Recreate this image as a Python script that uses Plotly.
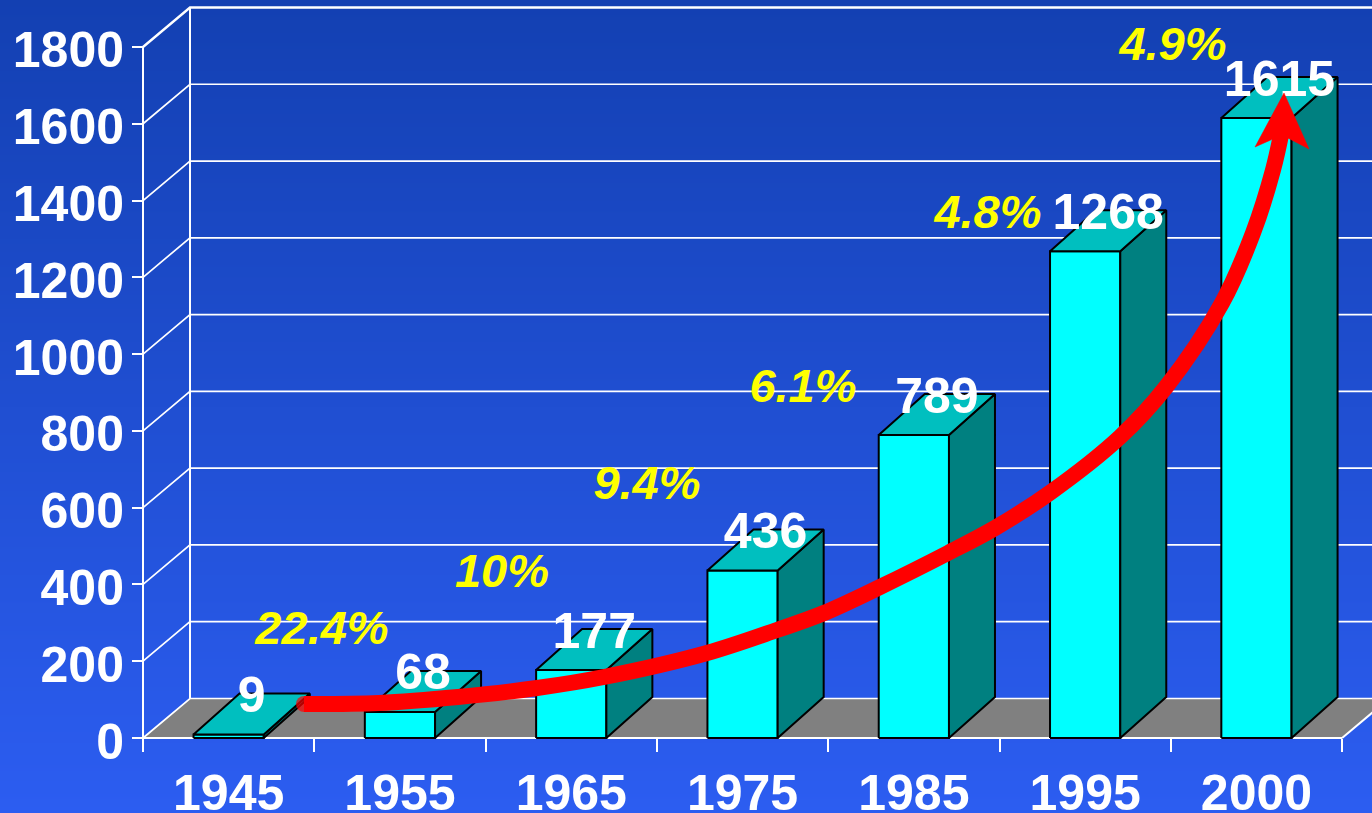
import plotly.graph_objects as go

# chart values
years = ["1945", "1955", "1965", "1975", "1985", "1995", "2000"]
values = [9, 68, 177, 436, 789, 1268, 1615]
growth_labels = ["22.4%", "10%", "9.4%", "6.1%", "4.8%", "4.9%"]
y_ticks = [0, 200, 400, 600, 800, 1000, 1200, 1400, 1600, 1800]

# pixel layout of the picture, everything below is converted to data units
W, H = 1372, 813
X0_PX, CAT_PX = 143, 171.3
Y0_PX, UNIT_PX = 738, 0.3839


def dx(px):
    return px / CAT_PX


def dy(px):
    return px / UNIT_PX


def px_x(px):
    return (px - X0_PX) / CAT_PX


def px_y(px):
    return (Y0_PX - px) / UNIT_PX


# percent labels and red arrow are hand placed overlays
growth_px = [(322, 632), (502, 575), (647, 487), (803, 390), (988, 216), (1173, 48)]
arrow_px = [(304, 704), (379, 703), (458, 697), (537, 688), (604, 677), (707, 653), (777, 630), (824, 613),
            (880, 587), (948, 553), (995, 528), (1051, 492), (1120, 437), (1166, 387), (1222, 303),
            (1253, 233), (1273, 170), (1282, 130)]
head_px = [(1284, 93), (1309, 149), (1282, 135), (1255, 147)]

FONT = "Liberation Sans"
BAR_W = 0.41
BAR_DX, BAR_DY = dx(46), dy(41)
WALL_DX, WALL_DY = dx(47), dy(39.5)
n = len(years)
xmin, xmax = px_x(0), px_x(W)
ymin, ymax = px_y(H), px_y(0)

fig = go.Figure()


def poly(xs, ys, fill, line="#000000", width=2):
    fig.add_trace(go.Scatter(x=xs, y=ys, mode="lines", fill="toself", fillcolor=fill,
                             line=dict(color=line, width=width), hoverinfo="skip", showlegend=False))


def line(xs, ys, width=1.7, color="#ffffff"):
    fig.add_trace(go.Scatter(x=xs, y=ys, mode="lines", line=dict(color=color, width=width),
                             hoverinfo="skip", showlegend=False))


# background gradient
fig.add_trace(go.Heatmap(x=[xmin, xmax], y=[ymax, ymin], z=[[0, 0], [1, 1]], zsmooth="best",
                         colorscale=[[0, "#1340B2"], [1, "#2C5DF1"]], showscale=False, hoverinfo="skip"))

# floor
poly([0, n, n + WALL_DX, WALL_DX, 0], [0, 0, WALL_DY, WALL_DY, 0], "#808080", line="#808080", width=0.5)

# walls
for t in y_ticks:
    line([0, WALL_DX, xmax], [t, t + WALL_DY, t + WALL_DY], width=2.4 if t == 1800 else 1.7)
line([0, 0], [0, y_ticks[-1]], 2)
line([WALL_DX, WALL_DX], [WALL_DY, y_ticks[-1] + WALL_DY], 2)
line([n, n + WALL_DX], [0, WALL_DY], 2)
line([0, n], [0, 0], 2)

# bars
for i, v in enumerate(values):
    x1 = i + 0.5 - BAR_W / 2
    x2 = x1 + BAR_W
    poly([x1, x2, x2, x1, x1], [0, 0, v, v, 0], "#00FFFF")
    poly([x2, x2 + BAR_DX, x2 + BAR_DX, x2, x2], [0, BAR_DY, v + BAR_DY, v, 0], "#008080")
    poly([x1, x2, x2 + BAR_DX, x1 + BAR_DX, x1], [v, v, v + BAR_DY, v + BAR_DY, v], "#00BFBF")

# value labels
fig.add_trace(go.Scatter(x=[i + 0.5 + dx(23) for i in range(n)], y=[v + dy(35) for v in values],
                         mode="text", text=[str(v) for v in values], textposition="middle center",
                         textfont=dict(family=FONT, size=50, color="#ffffff", weight="bold"),
                         hoverinfo="skip", showlegend=False, cliponaxis=False))

# red arrow, the marker on the first point gives the round start
fig.add_trace(go.Scatter(x=[px_x(p[0]) for p in arrow_px], y=[px_y(p[1]) for p in arrow_px], mode="lines+markers",
                         line=dict(color="#ff0000", width=16, shape="spline"),
                         marker=dict(color="#ff0000", size=[16] + [0] * (len(arrow_px) - 1), line=dict(width=0)),
                         hoverinfo="skip", showlegend=False))
poly([px_x(p[0]) for p in head_px] + [px_x(head_px[0][0])], [px_y(p[1]) for p in head_px] + [px_y(head_px[0][1])],
     "#ff0000", line="#ff0000", width=0.5)

# growth labels
fig.add_trace(go.Scatter(x=[px_x(p[0]) for p in growth_px], y=[px_y(p[1]) for p in growth_px],
                         mode="text", text=growth_labels, textposition="middle center",
                         textfont=dict(family=FONT, size=47, color="#ffff00", weight="bold", style="italic"),
                         hoverinfo="skip", showlegend=False))

tick_font = dict(family=FONT, size=50, color="#ffffff", weight="bold")
fig.update_layout(
    width=W, height=H, margin=dict(l=0, r=0, t=0, b=0), showlegend=False,
    paper_bgcolor="#2C5DF1", plot_bgcolor="#2C5DF1",
    xaxis=dict(range=[xmin, xmax], anchor="free", position=(H - Y0_PX) / H, showgrid=False, zeroline=False,
               showline=False, automargin=False, tickvals=[i + 0.5 for i in range(n)], ticktext=years, ticks="",
               ticklabelstandoff=21, tickfont=tick_font,
               minor=dict(tickvals=list(range(n + 1)), ticks="outside", ticklen=13, tickwidth=1.7, tickcolor="#ffffff", showgrid=False)),
    yaxis=dict(range=[ymin, ymax], anchor="free", position=X0_PX / W, showgrid=False, zeroline=False,
               showline=False, automargin=False, tickvals=y_ticks, ticks="outside", ticklen=11, tickwidth=1.7, tickcolor="#ffffff",
               ticklabelstandoff=-2, ticklabelshift=3, tickfont=tick_font),
)

fig.write_html("out.html", config=dict(displayModeBar=False),
               post_script="document.body.style.margin='0';document.body.style.overflow='hidden';")
